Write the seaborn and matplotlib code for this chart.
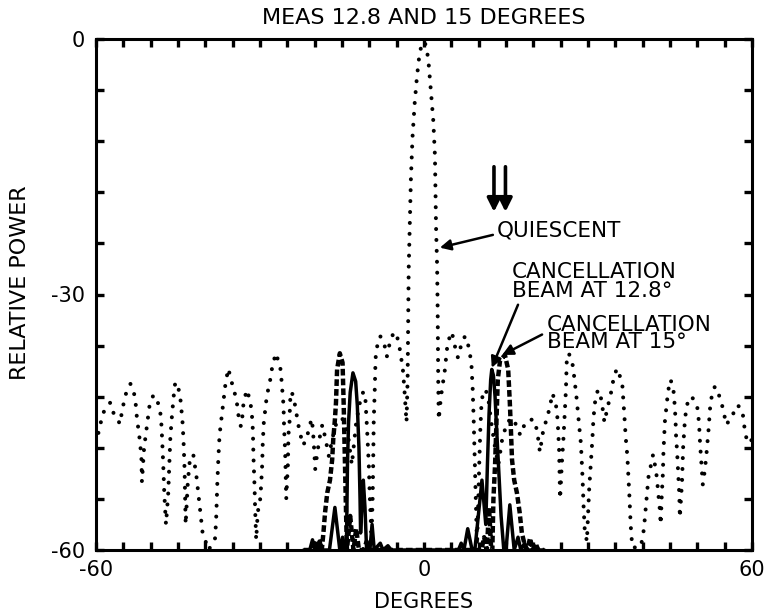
import matplotlib
matplotlib.use("Agg")
import matplotlib.pyplot as plt
import seaborn as sns

# ---------------- data ----------------
quiescent_deg = [
    -60.0, -59.3, -58.7, -57.4, -56.8, -55.6, -55.2, -54.5, -53.7, -53.2, -52.8, -52.5, -52.1, -51.7, -51.6,
    -51.2, -50.6, -50.2, -49.5, -48.8, -48.4, -48.1, -47.9, -47.7, -47.5, -47.2,
    -46.8, -46.6, -46.4, -46.1, -45.8, -45.5, -45.0, -44.6, -44.2, -44.0, -43.8, -43.7, -43.6,
    -43.2, -42.8, -42.2, -41.6, -41.0, -40.5, -39.4, -38.2,
    -38.0, -37.8, -37.6, -37.4, -37.1, -36.8, -36.5, -36.3, -35.8, -35.2, -34.9, -34.3, -34.0, -33.5,
    -33.2, -33.0, -32.4, -31.8, -31.5, -31.3, -31.2, -31.0, -30.9, -30.7,
    -30.4, -30.0, -29.8, -29.6, -29.5, -29.3, -29.0, -28.7, -28.3, -28.0, -27.7, -27.1,
    -26.3, -26.1, -25.9, -25.7, -25.6, -25.4, -25.3, -25.2,
    -24.9, -24.8, -24.6, -24.5, -24.2, -23.7, -23.2, -22.8, -22.1, -21.4, -21.0, -20.5, -20.2, -19.9,
    -19.5, -19.0, -18.6, -18.0, -17.4, -16.8, -16.0, -15.0, -14.0, -13.2, -12.4, -11.7, -11.1,
    -10.7, -10.4, -10.1, -9.9, -9.6, -9.4, -9.3, -9.2, -9.0, -8.9, -8.8, -8.4, -8.0, -7.3, -6.8, -6.2, -5.5,
    -4.9, -4.5, -4.2, -3.9, -3.6, -3.2, -3.0, -2.9, -2.8, -2.6, -2.4, -2.1, -1.7, -1.3, -0.9, -0.5, 0.0,
    0.4, 0.8, 1.1, 1.4, 1.7, 2.0, 2.1, 2.2, 2.4, 2.5, 2.6, 2.7,
    3.1, 3.9, 4.1, 4.4, 5.1, 5.5, 6.2, 6.9, 7.5, 8.0, 8.4, 8.7, 8.9, 9.1, 9.3, 9.5, 9.7,
    9.9, 10.1, 10.3, 10.5, 10.8, 11.3, 11.8, 12.3, 13.0, 13.6, 14.3, 15.2, 16.2, 17.0, 17.6,
    18.5, 19.3, 20.1, 20.7, 21.2, 21.8, 22.4, 23.0, 23.5, 23.9, 24.3, 24.5, 24.7, 24.8, 24.9,
    25.2, 25.5, 25.7, 25.9, 26.0, 26.1, 26.5, 27.2, 27.5, 27.9, 28.1, 28.4, 28.7, 29.0, 29.2, 29.4, 29.8,
    30.0, 30.2, 30.5, 30.8, 31.0, 31.3, 31.8, 32.5, 32.7, 33.0, 33.5, 33.9, 34.4, 34.7, 35.3,
    35.9, 36.3, 36.5, 36.7, 36.9, 37.2, 37.4, 37.6, 37.8, 38.1, 39.5,
    40.0, 40.3, 40.5, 40.7, 40.9, 41.1, 41.6, 41.9, 42.3, 42.6, 42.8, 43.1, 43.3,
    43.5, 43.7, 43.8, 44.0, 44.1, 44.4, 44.6, 45.1, 45.6, 45.8, 46.0, 46.1, 46.3, 46.5, 46.7, 46.8,
    47.2, 47.4, 47.7, 48.0, 48.6, 49.2, 50.0, 50.3, 50.5, 50.8, 51.0,
    51.4, 51.7, 51.9, 52.1, 52.3, 52.6, 53.2, 53.8, 54.4, 54.8, 55.1, 55.4,
    56.0, 56.5, 57.2, 57.8, 58.3, 58.5, 58.9, 59.5, 60.0,
]
quiescent_db = [
    -47.5, -45.5, -43.9, -42.7, -43.9, -45.2, -43.5, -41.6, -40.5, -41.1, -42.4, -44.6, -46.5, -49.0, -52.0,
    -48.0, -45.0, -43.0, -41.8, -42.5, -43.2, -44.5, -47.0, -50.0, -53.5, -57.0,
    -53.5, -50.0, -46.8, -44.2, -42.0, -40.3, -40.8, -42.0, -44.7, -47.0, -50.5, -54.0, -57.0,
    -52.0, -49.2, -48.8, -51.5, -55.0, -58.0, -60.0, -58.6,
    -56.0, -52.0, -49.0, -46.5, -44.8, -43.0, -41.5, -40.4, -38.7, -40.2, -41.0, -42.3, -44.0, -45.5,
    -44.2, -42.6, -41.2, -42.5, -43.9, -46.0, -49.0, -52.5, -55.0, -58.8,
    -55.5, -54.3, -52.5, -50.0, -47.5, -45.0, -43.3, -41.6, -40.8, -39.4, -38.3, -36.9,
    -38.5, -39.8, -41.4, -43.0, -45.5, -48.5, -51.0, -54.0,
    -50.0, -46.5, -45.0, -42.5, -41.4, -42.6, -44.5, -46.0, -47.7, -46.8, -45.5, -44.6, -47.0, -50.5,
    -48.5, -46.5, -45.3, -47.0, -49.0, -47.0, -45.0, -44.5, -46.0, -50.0, -45.0, -42.6, -41.4,
    -42.5, -46.0, -50.0, -54.0, -58.5, -54.0, -50.0, -45.0, -41.0, -38.5, -36.8, -35.6, -34.9, -35.7, -37.3, -35.5, -34.4,
    -35.0, -36.1, -37.4, -38.5, -41.0, -45.0, -40.0, -33.0, -27.0, -21.5, -16.5, -11.5, -7.5, -4.5, -2.2, -0.8, -0.3,
    -0.8, -2.5, -4.8, -7.2, -9.6, -13.7, -17.6, -22.0, -26.7, -32.0, -40.0, -44.7,
    -42.0, -38.5, -36.9, -35.5, -34.4, -35.7, -37.4, -35.7, -34.9, -35.7, -36.9, -38.5, -41.0, -45.0, -50.0, -55.0, -59.5,
    -55.0, -50.0, -45.9, -43.0, -41.4, -41.2, -42.4, -45.0, -48.0, -50.0, -47.0, -45.0, -44.5, -45.5, -46.5,
    -45.1, -44.7, -44.7, -46.0, -48.5, -46.0, -44.7, -43.3, -41.6, -42.4, -43.5, -45.5, -48.0, -51.0, -54.0,
    -50.0, -47.0, -44.5, -42.0, -40.4, -38.0, -36.9, -38.3, -39.8, -42.1, -43.5, -45.5, -47.5, -51.5, -55.0, -57.6, -59.0,
    -56.0, -53.0, -50.0, -47.0, -44.5, -42.6, -41.2, -42.4, -43.5, -45.0, -43.5, -42.4, -41.0, -39.7, -38.7,
    -39.7, -40.8, -42.7, -44.7, -46.8, -49.0, -51.5, -54.0, -57.0, -59.7, -59.7,
    -58.7, -57.0, -55.5, -54.0, -52.6, -51.2, -49.8, -48.8, -50.2, -51.5, -53.0, -55.0, -57.0,
    -53.5, -51.0, -48.5, -46.0, -44.5, -43.0, -41.5, -40.0, -41.0, -42.5, -44.5, -46.5, -48.5, -51.0, -53.5, -56.2,
    -52.0, -48.0, -45.0, -43.2, -42.0, -42.2, -43.3, -45.0, -47.5, -50.5, -52.3,
    -50.5, -48.5, -47.0, -45.5, -43.5, -42.1, -40.8, -41.5, -42.7, -43.7, -44.7, -45.3,
    -44.4, -44.1, -43.0, -43.2, -43.9, -45.1, -46.7, -47.5, -47.0,
]

beam128_deg = [
    -22.0, -20.9, -20.4, -19.9, -19.5, -19.1, -17.3, -16.3, -15.4, -14.9, -14.5,
    -14.2, -14.0, -13.8, -13.5, -13.0, -12.5, -12.2, -11.9, -11.7, -11.6,
    -11.3, -11.1, -10.8, -10.5, -9.9, -9.5, -9.1, -8.0, -7.5, -6.6, -6.0, -5.0,
    5.0, 6.3, 6.8, 7.3, 8.0, 8.8, 9.3, 10.6, 11.3,
    11.6, 11.9, 12.2, 12.4, 12.7, 13.0, 13.3, 13.7, 14.1, 14.6,
    15.0, 15.7, 16.5, 17.2, 17.7, 18.4, 19.0, 22.0,
]
beam128_db = [
    -60.0, -60.0, -58.8, -60.0, -59.2, -60.0, -60.0, -55.0, -60.0, -58.5, -60.0,
    -60.0, -50.0, -45.0, -41.5, -39.2, -40.2, -43.0, -48.0, -54.0, -58.0,
    -54.0, -51.8, -55.0, -60.0, -60.0, -57.0, -60.0, -59.2, -60.0, -59.5, -60.0, -60.0,
    -60.0, -60.0, -59.2, -60.0, -57.5, -60.0, -60.0, -51.8, -57.0,
    -50.0, -44.0, -40.0, -38.8, -39.5, -42.0, -46.0, -51.0, -56.0, -60.0,
    -60.0, -54.7, -60.0, -58.5, -60.0, -59.2, -60.0, -60.0,
]

beam15_deg = [
    -22.0, -20.5, -20.0, -19.5, -19.1, -18.7, -18.4, -18.1, -17.7, -17.2, -16.8, -16.6, -16.3, -16.1,
    -15.9, -15.4, -14.9, -14.7, -14.5, -14.3, -14.1, -13.5, -12.9, -12.4, -11.9, -11.0, -10.5, -10.0, -5.0,
    5.0, 10.5, 11.0, 11.5, 11.9, 12.3, 12.5, 12.7, 13.0, 13.3, 13.5, 13.9, 14.8,
    15.4, 15.7, 15.9, 16.1, 16.5, 17.0, 17.5, 17.9, 18.5, 18.9, 19.4, 19.9, 20.4, 20.9, 22.0,
]
beam15_db = [
    -60.0, -60.0, -59.2, -60.0, -59.0, -60.0, -58.0, -55.6, -53.3, -51.8, -49.4, -47.0, -44.7, -42.7,
    -38.8, -36.9, -38.0, -42.7, -48.6, -54.5, -60.0, -56.0, -60.0, -57.5, -60.0, -60.0, -59.0, -60.0, -60.0,
    -60.0, -60.0, -58.5, -60.0, -55.0, -60.0, -60.0, -54.0, -50.0, -44.0, -40.0, -37.8, -37.1,
    -38.8, -42.7, -45.9, -49.4, -51.8, -53.3, -55.6, -58.0, -59.6, -60.0, -58.6, -60.0, -59.2, -60.0, -60.0,
]

title_text = "MEAS 12.8 AND 15 DEGREES"
x_label = "DEGREES"
y_label = "RELATIVE POWER"
x_ticks = list(range(-60, 61, 5))
x_tick_text = {-60: "-60", 0: "0", 60: "60"}
y_ticks = list(range(-60, 1, 6))
y_tick_text = {-60: "-60", -30: "-30", 0: "0"}
label_quiescent = "QUIESCENT"
label_128 = "CANCELLATION\nBEAM AT 12.8\u00b0"
label_15 = "CANCELLATION\nBEAM AT 15\u00b0"
arrow_dirs = [12.8, 14.9]

# ---------------- figure ----------------
sns.set_theme(style="ticks")
plt.rcParams["font.family"] = ["DejaVu Sans"]
plt.rcParams["axes.linewidth"] = 2.2
plt.rcParams["text.color"] = "black"
plt.rcParams["axes.labelcolor"] = "black"

W, H = 770, 613
fig = plt.figure(figsize=(W / 100, H / 100), dpi=100)
ax = fig.add_axes([96 / W, 1 - 550 / H, 656 / W, 511 / H])

sns.lineplot(x=quiescent_deg, y=quiescent_db, sort=False, estimator=None, ax=ax,
             color="black", linewidth=2.9, linestyle=(0, (0.01, 2.7)),
             dash_capstyle="round")
sns.lineplot(x=beam15_deg, y=beam15_db, sort=False, estimator=None, ax=ax,
             color="black", linewidth=3.2, linestyle=(0, (1.5, 0.7)))
sns.lineplot(x=beam128_deg, y=beam128_db, sort=False, estimator=None, ax=ax,
             color="black", linewidth=2.5, linestyle="-")

ax.set_xlim(-60, 60)
ax.set_ylim(-60, 0)
ax.set_xticks(x_ticks)
ax.set_xticklabels([x_tick_text.get(t, "") for t in x_ticks])
ax.set_yticks(y_ticks)
ax.set_yticklabels([y_tick_text.get(t, "") for t in y_ticks])
ax.tick_params(direction="in", length=6, width=2.4, top=True, right=True,
               labelsize=15, color="black", labelcolor="black")
ax.tick_params(axis="x", pad=7)
ax.tick_params(axis="y", pad=8)
for s in ax.spines.values():
    s.set_color("black")

ax.set_title(title_text, fontsize=16, pad=11, color="black")
ax.set_xlabel(x_label, fontsize=15, labelpad=9, color="black")
ax.set_ylabel(y_label, fontsize=16, color="black")
ax.yaxis.set_label_coords(-0.1, 0.5225)

FS = 15.5
ap = dict(arrowstyle="-|>", color="black", lw=1.8, mutation_scale=16, shrinkA=0, shrinkB=0)
ax.annotate("", xy=(2.9, -24.5), xytext=(12.6, -23.0), arrowprops=ap)
ax.text(13.35, -23.2, label_quiescent, fontsize=FS, ha="left", va="baseline")

ax.annotate("", xy=(12.4, -38.6), xytext=(17.2, -31.2), arrowprops=ap)
ax.text(16.1, -30.3, label_128, fontsize=FS, ha="left", va="baseline", linespacing=0.91)

ax.annotate("", xy=(14.3, -37.1), xytext=(21.6, -34.7), arrowprops=ap)
ax.text(22.5, -36.3, label_15, fontsize=FS, ha="left", va="baseline", linespacing=0.84)

ap2 = dict(arrowstyle="-|>", color="black", lw=2.6, mutation_scale=20, shrinkA=0, shrinkB=0)
for d in arrow_dirs:
    ax.annotate("", xy=(d, -20.3), xytext=(d, -15.0), arrowprops=ap2)

fig.savefig("out.png", dpi=100, facecolor="white")
